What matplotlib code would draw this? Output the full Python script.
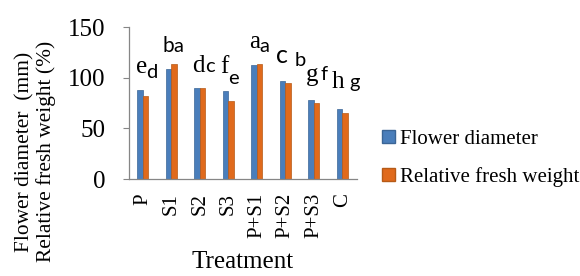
import matplotlib
matplotlib.use('Agg')
import matplotlib.pyplot as plt
from matplotlib.patches import Patch
import numpy as np

# ! -------------
# ! Data
treatments = ['P', 'S1', 'S2', 'S3', 'P+S1', 'P+S2', 'P+S3', 'C']
flower_diameter = [87.9, 108.3, 89.8, 86.6, 112.5, 97.0, 77.7, 69.1]
fresh_weight = [81.6, 113.5, 89.8, 77.3, 113.5, 95.1, 75.3, 65.5]
letters_fd = ['e', 'b', 'd', 'f', 'a', 'c', 'g', 'h']
letters_fw = ['d', 'a', 'c', 'e', 'a', 'b', 'f', 'g']

# label placement (offset from group centre / tallest bar)
fd_dx = [-0.05, -0.09, -0.035, -0.12, -0.09, -0.11, -0.05, -0.14]
fd_dy = [16.7, 11.9, 15.8, 18.0, 15.8, 17.5, 19.0, 20.7]
fw_dx = [0.32, 0.26, 0.35, 0.19, 0.26, 0.51, 0.35, 0.42]
fw_dy = [11.8, 11.9, 15.8, 7.5, 11.9, 14.5, 20.0, 20.7]

blue = '#4a7ebb'
orange = '#e06a1c'
serif = 'Liberation Serif'
sans = 'Lato'

plt.rcParams['font.family'] = serif

fig = plt.figure(figsize=(5.8, 2.76), dpi=100)
ax = fig.add_axes([0.2216, 0.3514, 0.3931, 0.5507])

x = np.arange(len(treatments))
w = 0.2
ax.bar(x - w/2, flower_diameter, w, color=blue, edgecolor='#3b6596', linewidth=0.5)
ax.bar(x + w/2, fresh_weight, w, color=orange, edgecolor='#b65a17', linewidth=0.5)

ax.set_xlim(-0.5, 7.5)
ax.set_ylim(0, 150)
ax.set_yticks([0, 50, 100, 150])
ax.set_xticks(x)
ax.set_xticklabels(treatments, rotation=90, fontsize=15)
ax.tick_params(axis='x', length=0, pad=10)
ax.tick_params(axis='y', length=4.5, width=0.8, color='#868686', labelsize=18, pad=12)

for s in ['top', 'right']:
    ax.spines[s].set_visible(False)
for s in ['left', 'bottom']:
    ax.spines[s].set_color('#868686')
    ax.spines[s].set_linewidth(0.9)

ax.set_xlabel('Treatment', fontsize=18, labelpad=9)

# two line y label
fig.text(0.042, 0.45, 'Flower diameter  (mm)', rotation=90, fontsize=15.4,
         ha='center', va='center')
fig.text(0.079, 0.45, 'Relative fresh weight (%)', rotation=90, fontsize=15.4,
         ha='center', va='center')

# significance letters
for i in range(len(treatments)):
    top = max(flower_diameter[i], fresh_weight[i])
    fam1 = sans if i in (1, 5) else serif
    size1 = 15 if i == 1 else 18
    ax.text(i + fd_dx[i], top + fd_dy[i], letters_fd[i], family=fam1,
            fontsize=size1, ha='center', va='baseline', clip_on=False)
    ax.text(i + fw_dx[i], top + fw_dy[i], letters_fw[i], family=sans,
            fontsize=14.5, ha='center', va='baseline', clip_on=False)

handles = [Patch(facecolor=blue, edgecolor='#3b6596'),
           Patch(facecolor=orange, edgecolor='#b65a17')]
fig.legend(handles, ['Flower diameter', 'Relative fresh weight'],
           loc='upper left', bbox_to_anchor=(382/580, 1 - 130/276),
           frameon=False, fontsize=15, handlelength=0.6, handleheight=0.6,
           handletextpad=0.25, labelspacing=0.85, borderpad=0, borderaxespad=0)

plt.savefig('out.png', dpi=100)
